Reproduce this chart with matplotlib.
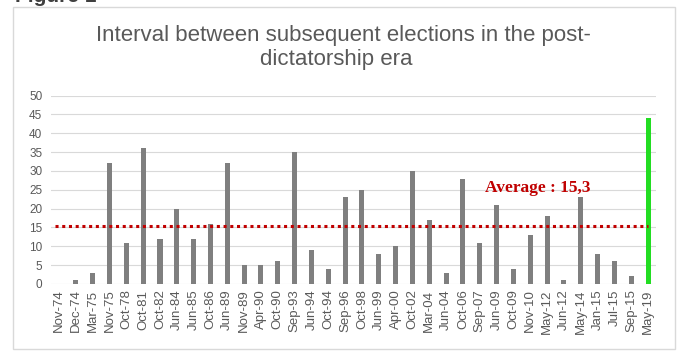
import matplotlib.pyplot as plt
from matplotlib.patches import Rectangle

# dates des élections
elections = ["Nov-74", "Dec-74", "Mar-75", "Nov-75", "Oct-78", "Oct-81", "Oct-82",
             "Jun-84", "Jun-85", "Oct-86", "Jun-89", "Nov-89", "Apr-90", "Oct-90",
             "Sep-93", "Jun-94", "Oct-94", "Sep-96", "Oct-98", "Jun-99", "Apr-00",
             "Oct-02", "Mar-04", "Jun-04", "Oct-06", "Sep-07", "Jun-09", "Oct-09",
             "Nov-10", "May-12", "Jun-12", "May-14", "Jan-15", "Jul-15", "Sep-15",
             "May-19"]

# intervalle (mois) depuis l'élection précédente
intervalles = [0, 1, 3, 32, 11, 36, 12, 20, 12, 16, 32, 5, 5, 6, 35, 9, 4, 23, 25,
               8, 10, 30, 17, 3, 28, 11, 21, 4, 13, 18, 1, 23, 8, 6, 2, 44]

moyenne = 15.3

plt.rcParams["font.family"] = ["Liberation Sans", "DejaVu Sans"]

fig = plt.figure(figsize=(6.81, 3.53), dpi=100)
ax = fig.add_axes([0.0743, 0.1955, 0.8897, 0.5335])

# cadre gris autour du graphique
fig.patches.append(Rectangle((13 / 681, 4 / 353), 662 / 681, 342 / 353,
                             transform=fig.transFigure, fill=False,
                             edgecolor="#d9d9d9", linewidth=1))
fig.text(15 / 681, 1 - 2.5 / 353, "Figure 1", fontsize=15, fontweight="bold",
         color="#404040", va="baseline")

x = range(len(elections))
couleurs = ["#7f7f7f"] * (len(elections) - 1) + ["#22dd22"]
ax.bar(x, intervalles, width=0.3, color=couleurs, zorder=2)

# ligne de la moyenne
ax.plot([-0.25, len(elections) - 1], [moyenne, moyenne], linestyle=(0, (1, 1.2)),
        color="#c00000", linewidth=2.2, zorder=3)
ax.text(25.3, 25.5, "Average : " + str(moyenne).replace(".", ","),
        family="Liberation Serif", fontweight="bold", fontsize=12.5,
        color="#c00000", va="center")

ax.set_xlim(-0.5, len(elections) - 0.5)
ax.set_ylim(0, 50)
ax.set_yticks(range(0, 51, 5))
ax.set_xticks(list(x))
ax.set_xticklabels(elections, rotation=90, fontsize=9.5, color="#595959")
ax.tick_params(axis="y", labelsize=8.5, labelcolor="#595959", length=0, pad=6)
ax.tick_params(axis="x", length=0, pad=4)
ax.grid(axis="y", color="#d9d9d9", linewidth=0.8, zorder=0)
for s in ax.spines.values():
    s.set_visible(False)

# titre sur deux lignes
fig.text(0.505, 1 - 36 / 353, "Interval between subsequent elections in the post-",
         ha="center", va="center", fontsize=16, color="#595959")
fig.text(0.494, 1 - 59 / 353, "dictatorship era",
         ha="center", va="center", fontsize=16, color="#595959")

fig.savefig("out.png")
